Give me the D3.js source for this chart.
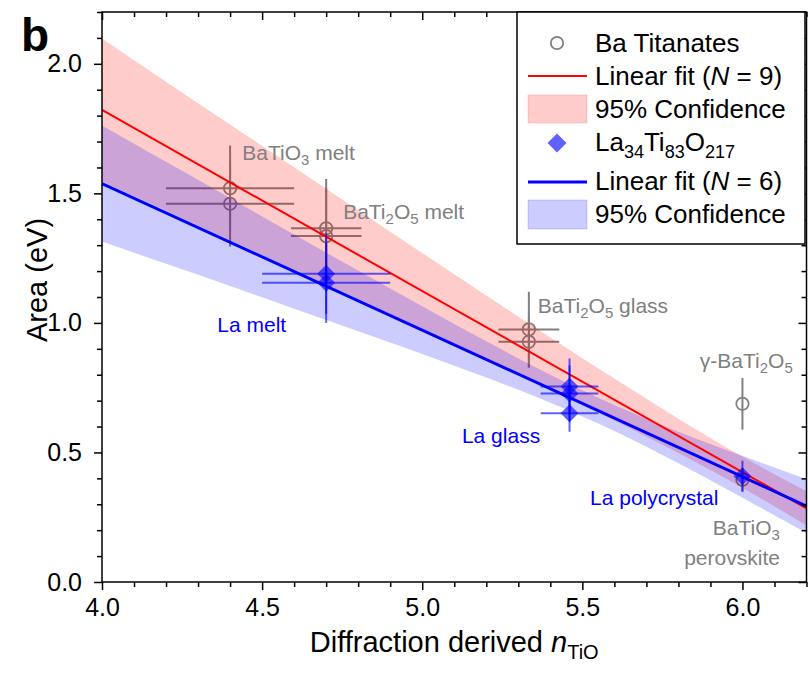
<!DOCTYPE html>
<html><head><meta charset="utf-8">
<script src="https://cdn.jsdelivr.net/npm/d3@7"></script>
<style>body{margin:0;background:#fff} svg{display:block} text{font-family:"Liberation Sans",Arial,Helvetica,sans-serif}</style>
</head><body>
<svg id="c" width="808" height="676"></svg>
<script>
// ---------- data ----------
// Ba titanates (open grey circles)
const baX    = [4.4, 4.4, 4.7, 4.7, 5.333, 5.333, 6.0, 6.0];
const baY    = [1.52, 1.46, 1.365, 1.335, 0.975, 0.927, 0.688, 0.395];
const baXErr = [0.2, 0.2, 0.11, 0.11, 0.095, 0.095, 0, 0];
const baYErr = [0.165, 0.165, 0.19, 0.19, 0.145, 0.10, 0.10, 0.045];
// La34Ti83O217 (blue diamonds)
const laX    = [4.7, 4.7, 5.46, 5.46, 5.46, 6.0];
const laY    = [1.19, 1.155, 0.755, 0.728, 0.651, 0.408];
const laXErr = [0.2, 0.2, 0.09, 0.09, 0.09, 0];
const laYErr = [0.155, 0.155, 0.108, 0.108, 0.071, 0.06];
// linear fits (end points)
const fitX  = [4.0, 6.2];
const baFit = [1.822, 0.284];
const laFit = [1.538, 0.293];
// 95% confidence bands
const bandX    = [4.0, 4.2, 4.4, 4.6, 4.8, 5.0, 5.2, 5.4, 5.6, 5.8, 6.0, 6.2];
const baBandHi = [2.098, 1.931, 1.766, 1.601, 1.435, 1.270, 1.106, 0.944, 0.785, 0.630, 0.484, 0.350];
const baBandLo = [1.546, 1.433, 1.319, 1.205, 1.091, 0.976, 0.860, 0.742, 0.623, 0.498, 0.364, 0.218];
const laBandHi = [1.762, 1.622, 1.482, 1.341, 1.202, 1.064, 0.929, 0.800, 0.683, 0.580, 0.487, 0.397];
const laBandLo = [1.314, 1.228, 1.142, 1.055, 0.968, 0.880, 0.789, 0.692, 0.583, 0.458, 0.325, 0.189];
// ticks
const xTickLabels = ["4.0", "4.5", "5.0", "5.5", "6.0"];
const yTickLabels = ["0.0", "0.5", "1.0", "1.5", "2.0"];
// annotations: [parts, x, y, anchor]  (parts: [text, kind])
const baNotes = [
  [[["BaTiO","n"],["3","s"],[" melt","n"]], 4.438, 1.629, "start"],
  [[["BaTi","n"],["2","s"],["O","n"],["5","s"],[" melt","n"]], 4.753, 1.401, "start"],
  [[["BaTi","n"],["2","s"],["O","n"],["5","s"],[" glass","n"]], 5.361, 1.038, "start"],
  [[["\u03b3-BaTi","n"],["2","s"],["O","n"],["5","s"]], 5.867, 0.825, "start"],
  [[["BaTiO","n"],["3","s"]], 6.117, 0.181, "end"],
  [[["perovskite","n"]], 6.117, 0.065, "end"]
];
const laNotes = [
  [[["La melt","n"]], 4.36, 0.964, "start"],
  [[["La glass","n"]], 5.124, 0.536, "start"],
  [[["La polycrystal","n"]], 5.524, 0.297, "start"]
];

// ---------- layout ----------
const svg = d3.select("#c");
const X0 = 102, X1 = 806.5, Y0 = 582, Y1 = 12;
const x = d3.scaleLinear([4.0, 6.2], [X0, X1]);
const y = d3.scaleLinear([0, 2.2], [Y0, Y1]);
const GREY = "#808080";
const BLUE_T = "rgba(0,0,255,0.62)";

function rich(sel, parts, size, subSize, subShift) {
  let shifted = false;
  parts.forEach(([t, k]) => {
    const ts = sel.append("tspan").text(t);
    if (k === "s") {
      ts.attr("font-size", subSize).attr("dy", shifted ? 0 : subShift);
      shifted = true;
    } else {
      ts.attr("font-size", size).attr("dy", shifted ? -subShift : 0);
      shifted = false;
      if (k === "i") ts.attr("font-style", "italic");
    }
  });
}
const diamond = (s) => `M0,${-s}L${s},0L0,${s}L${-s},0Z`;

const plot = svg.append("g");
plot.append("clipPath").attr("id", "clip").append("rect")
  .attr("x", X0).attr("y", Y1).attr("width", X1 - X0).attr("height", Y0 - Y1);
const inner = plot.append("g").attr("clip-path", "url(#clip)");

// grey Ba points with error bars (under the bands)
const baIdx = d3.range(baX.length);
const gBa = inner.append("g");
gBa.selectAll("line.v").data(baIdx).join("line")
  .attr("x1", i => x(baX[i])).attr("x2", i => x(baX[i]))
  .attr("y1", i => y(baY[i] - baYErr[i])).attr("y2", i => y(baY[i] + baYErr[i]))
  .attr("stroke", GREY).attr("stroke-width", 2);
gBa.selectAll("line.h").data(baIdx.filter(i => baXErr[i] > 0)).join("line")
  .attr("x1", i => x(baX[i] - baXErr[i])).attr("x2", i => x(baX[i] + baXErr[i]))
  .attr("y1", i => y(baY[i])).attr("y2", i => y(baY[i]))
  .attr("stroke", GREY).attr("stroke-width", 2);
gBa.selectAll("circle").data(baIdx).join("circle")
  .attr("cx", i => x(baX[i])).attr("cy", i => y(baY[i])).attr("r", 6.2)
  .attr("fill", "none").attr("stroke", GREY).attr("stroke-width", 1.8);

// confidence bands
const bandIdx = d3.range(bandX.length);
const area = (hi, lo) => d3.area().curve(d3.curveMonotoneX)
  .x(i => x(bandX[i])).y0(i => y(lo[i])).y1(i => y(hi[i]));
inner.append("path").attr("d", area(baBandHi, baBandLo)(bandIdx)).attr("fill", "rgba(255,0,0,0.2)");
inner.append("path").attr("d", area(laBandHi, laBandLo)(bandIdx)).attr("fill", "rgba(0,0,255,0.2)");

// fit lines
const fitIdx = d3.range(fitX.length);
inner.append("path").attr("d", d3.line().x(i => x(fitX[i])).y(i => y(baFit[i]))(fitIdx))
  .attr("fill", "none").attr("stroke", "#ff0000").attr("stroke-width", 2);
inner.append("path").attr("d", d3.line().x(i => x(fitX[i])).y(i => y(laFit[i]))(fitIdx))
  .attr("fill", "none").attr("stroke", "#0000ff").attr("stroke-width", 3);

// La points
const laIdx = d3.range(laX.length);
const gLa = inner.append("g");
gLa.selectAll("line.v").data(laIdx).join("line")
  .attr("x1", i => x(laX[i])).attr("x2", i => x(laX[i]))
  .attr("y1", i => y(laY[i] - laYErr[i])).attr("y2", i => y(laY[i] + laYErr[i]))
  .attr("stroke", BLUE_T).attr("stroke-width", 2);
gLa.selectAll("line.h").data(laIdx.filter(i => laXErr[i] > 0)).join("line")
  .attr("x1", i => x(laX[i] - laXErr[i])).attr("x2", i => x(laX[i] + laXErr[i]))
  .attr("y1", i => y(laY[i])).attr("y2", i => y(laY[i]))
  .attr("stroke", BLUE_T).attr("stroke-width", 2);
gLa.selectAll("path").data(laIdx).join("path")
  .attr("transform", i => `translate(${x(laX[i])},${y(laY[i])})`)
  .attr("d", diamond(9)).attr("fill", BLUE_T);

// annotations
baNotes.forEach(([parts, ax, ay, anc]) => {
  rich(plot.append("text").attr("x", x(ax)).attr("y", y(ay)).attr("text-anchor", anc)
    .attr("fill", GREY), parts, 21, 15, 5);
});
laNotes.forEach(([parts, ax, ay, anc]) => {
  rich(plot.append("text").attr("x", x(ax)).attr("y", y(ay)).attr("text-anchor", anc)
    .attr("fill", "#0000ff"), parts, 21, 15, 5);
});

// ---------- axes ----------
const xMaj = xTickLabels.map(Number), yMaj = yTickLabels.map(Number);
const xMin = d3.range(40, 63).map(v => v / 10).filter(v => !xMaj.includes(v));
const yMin = d3.range(0, 23).map(v => v / 10).filter(v => !yMaj.includes(v));
function styleAxis(g) {
  g.select(".domain").remove();
  g.selectAll("line").attr("stroke", "#000").attr("stroke-width", 1.5);
  g.selectAll("text").attr("font-size", 25).attr("fill", "#000")
    .attr("font-family", '"Liberation Sans",Arial,sans-serif');
}
svg.append("g").attr("transform", `translate(0,${Y0})`)
  .call(d3.axisBottom(x).tickValues(xMaj).tickSize(8).tickPadding(8).tickFormat((d, i) => xTickLabels[i])).call(styleAxis);
svg.append("g").attr("transform", `translate(0,${Y0})`)
  .call(d3.axisBottom(x).tickValues(xMin).tickSize(5).tickFormat("")).call(styleAxis);
svg.append("g").attr("transform", `translate(0,${Y1})`)
  .call(d3.axisTop(x).tickValues(xMaj).tickSize(-8).tickFormat("")).call(styleAxis);
svg.append("g").attr("transform", `translate(0,${Y1})`)
  .call(d3.axisTop(x).tickValues(xMin).tickSize(-5).tickFormat("")).call(styleAxis);
svg.append("g").attr("transform", `translate(${X0},0)`)
  .call(d3.axisLeft(y).tickValues(yMaj).tickSize(8).tickPadding(12).tickFormat((d, i) => yTickLabels[i])).call(styleAxis);
svg.append("g").attr("transform", `translate(${X0},0)`)
  .call(d3.axisLeft(y).tickValues(yMin).tickSize(5).tickFormat("")).call(styleAxis);
svg.append("g").attr("transform", `translate(${X1},0)`)
  .call(d3.axisRight(y).tickValues(yMaj).tickSize(-8).tickFormat("")).call(styleAxis);
svg.append("g").attr("transform", `translate(${X1},0)`)
  .call(d3.axisRight(y).tickValues(yMin).tickSize(-5).tickFormat("")).call(styleAxis);

svg.append("rect").attr("x", X0).attr("y", Y1).attr("width", X1 - X0).attr("height", Y0 - Y1)
  .attr("fill", "none").attr("stroke", "#000").attr("stroke-width", 1.5);

// axis titles
rich(svg.append("text").attr("x", (X0 + X1) / 2).attr("y", 652).attr("text-anchor", "middle").attr("fill", "#000"),
  [["Diffraction derived ", "n"], ["n", "i"], ["TiO", "s"]], 29, 20, 7);
svg.append("text").attr("transform", "translate(47,280) rotate(-90)").attr("text-anchor", "middle")
  .attr("font-size", 29).attr("fill", "#000").text("Area (eV)");

// panel label
svg.append("text").attr("x", 21).attr("y", 51).attr("font-size", 46).attr("font-weight", "bold").text("b");

// ---------- legend ----------
const lg = svg.append("g");
lg.append("rect").attr("x", 517).attr("y", Y1).attr("width", 288).attr("height", 232)
  .attr("fill", "#fff").attr("stroke", "#000").attr("stroke-width", 1.5);
const LX0 = 528, LX1 = 587, LXC = 557, TX = 595;
lg.append("circle").attr("cx", LXC).attr("cy", 43).attr("r", 6.2).attr("fill", "none").attr("stroke", GREY).attr("stroke-width", 1.8);
lg.append("line").attr("x1", LX0).attr("x2", LX1).attr("y1", 76).attr("y2", 76).attr("stroke", "#ff0000").attr("stroke-width", 2);
lg.append("rect").attr("x", LX0).attr("y", 95).attr("width", LX1 - LX0).attr("height", 28)
  .attr("fill", "rgba(255,0,0,0.2)").attr("stroke", "rgba(255,0,0,0.15)");
lg.append("path").attr("transform", `translate(${LXC},143)`).attr("d", diamond(9.5)).attr("fill", BLUE_T);
lg.append("line").attr("x1", LX0).attr("x2", LX1).attr("y1", 182).attr("y2", 182).attr("stroke", "#0000ff").attr("stroke-width", 3);
lg.append("rect").attr("x", LX0).attr("y", 200).attr("width", LX1 - LX0).attr("height", 29)
  .attr("fill", "rgba(0,0,255,0.2)").attr("stroke", "rgba(0,0,255,0.15)");
const legTexts = [
  [[["Ba Titanates", "n"]], 52],
  [[["Linear fit (", "n"], ["N", "i"], [" = 9)", "n"]], 85],
  [[["95% Confidence", "n"]], 118],
  [[["La", "n"], ["34", "s"], ["Ti", "n"], ["83", "s"], ["O", "n"], ["217", "s"]], 151],
  [[["Linear fit (", "n"], ["N", "i"], [" = 6)", "n"]], 190],
  [[["95% Confidence", "n"]], 223]
];
legTexts.forEach(([parts, by]) => {
  rich(lg.append("text").attr("x", TX).attr("y", by).attr("fill", "#000"), parts, 26, 18, 7);
});
</script>
</body></html>
